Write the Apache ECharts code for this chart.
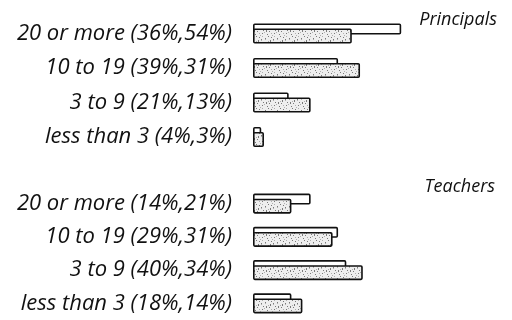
<!DOCTYPE html>
<html>
<head>
<meta charset="utf-8">
<script src="https://cdn.jsdelivr.net/npm/echarts@6/dist/echarts.min.js"></script>
<style>html,body{margin:0;padding:0;background:#fff;}#c{width:512px;height:320px;}</style>
</head>
<body>
<div id="c"></div>
<script>
const categories = ['20 or more', '10 to 19', '3 to 9', 'less than 3'];
const principalsFirst = [36, 39, 21, 4];
const principalsSecond = [54, 31, 13, 3];
const teachersFirst = [14, 29, 40, 18];
const teachersSecond = [21, 31, 34, 14];
const groupTitles = ['Principals', 'Teachers'];

function makePattern() {
  const c = document.createElement('canvas');
  c.width = 12; c.height = 12;
  const g = c.getContext('2d');
  g.fillStyle = '#eeeeee'; g.fillRect(0, 0, 12, 12);
  g.fillStyle = '#7a7a7a';
  [[1,2],[5,7],[9,3],[3,10],[7,1],[10,9],[2,6],[6,4],[11,6],[4,0],[6,5],[2,7]].forEach(p => g.fillRect(p[0], p[1], 1, 1));
  g.fillStyle = '#b0b0b0';
  [[0,8],[8,11],[4,5],[10,0],[7,9],[1,3],[9,4]].forEach(p => g.fillRect(p[0], p[1], 1, 1));
  return c;
}
const pattern = { image: makePattern(), repeat: 'repeat' };

const FONT = '"Open Sans"';
const grids = [
  { left: 253, width: 247, top: 16.25, height: 138 },
  { left: 253, width: 247, top: 187, height: 138 }
];
function labelsFor(first, second) {
  return function (v, i) { return v + ' (' + first[i] + '%,' + second[i] + '%)'; };
}
const chart = echarts.init(document.getElementById('c'), null, { renderer: 'canvas' });
const xAxes = [0, 1].map(i => ({
  gridIndex: i, type: 'value', min: 0, max: 90, show: false
}));
const yAxes = [[principalsFirst, principalsSecond], [teachersFirst, teachersSecond]].map((d, i) => ({
  gridIndex: i, type: 'category', data: categories, inverse: true,
  axisLine: { show: false }, axisTick: { show: false }, splitLine: { show: false },
  axisLabel: {
    formatter: labelsFor(d[0], d[1]), margin: 21, color: '#111',
    fontFamily: FONT, fontStyle: 'italic', fontSize: 22,
    verticalAlign: 'middle', padding: [0, 0, 6, 0]
  }
}));
function pair(first, second, idx) {
  return [
    {
      type: 'bar', xAxisIndex: idx, yAxisIndex: idx, data: second,
      barWidth: 11, barGap: '-54.5%',
      itemStyle: { color: '#ffffff', borderColor: '#111', borderWidth: 1.6, borderRadius: 1 },
      silent: true, animation: false
    },
    {
      type: 'bar', xAxisIndex: idx, yAxisIndex: idx, data: first,
      barWidth: 15,
      itemStyle: { color: pattern, borderColor: '#111', borderWidth: 1.6, borderRadius: 1 },
      silent: true, animation: false
    }
  ];
}
chart.setOption({
  animation: false,
  title: [
    { text: groupTitles[0], right: 10, top: 6, textStyle: { fontFamily: FONT, fontStyle: 'italic', fontWeight: 'normal', fontSize: 18, color: '#111' } },
    { text: groupTitles[1], right: 12, top: 173, textStyle: { fontFamily: FONT, fontStyle: 'italic', fontWeight: 'normal', fontSize: 18, color: '#111' } }
  ],
  grid: grids,
  xAxis: xAxes,
  yAxis: yAxes,
  series: pair(principalsFirst, principalsSecond, 0).concat(pair(teachersFirst, teachersSecond, 1))
});
</script>
</body>
</html>
